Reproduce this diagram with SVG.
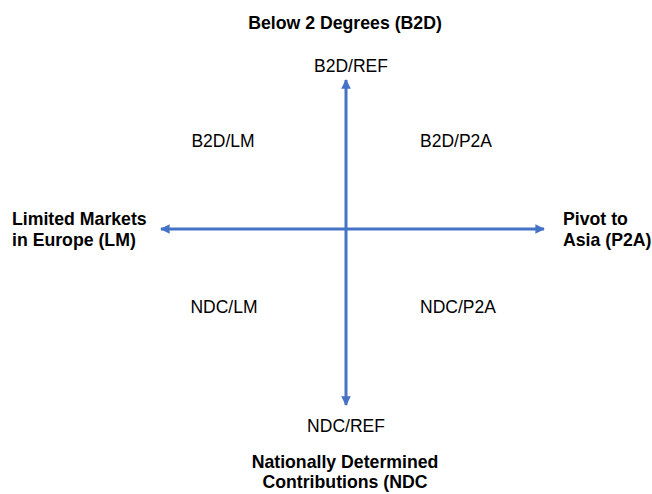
<svg xmlns="http://www.w3.org/2000/svg" width="652" height="494" viewBox="0 0 652 494">
<style>
.b{font-family:"Liberation Sans",Arial,sans-serif;font-weight:bold;font-size:17.7px;fill:#000}
.n{font-family:"Liberation Sans",Arial,sans-serif;font-size:17.5px;fill:#000}
.ax{stroke:#4472C4;stroke-width:3;fill:none}
</style>
<defs>
<marker id="ah" viewBox="0 0 10 10" refX="9" refY="5" markerWidth="3.2" markerHeight="3.2" orient="auto" markerUnits="strokeWidth">
<path d="M0,0 L10,5 L0,10 Z" fill="#4472C4"/>
</marker>
</defs>
<g id="connectors">
<line class="ax" x1="346" y1="229" x2="346" y2="80" marker-end="url(#ah)"/>
<line class="ax" x1="346" y1="229" x2="346" y2="405" marker-end="url(#ah)"/>
<line class="ax" x1="346" y1="229" x2="161" y2="229" marker-end="url(#ah)"/>
<line class="ax" x1="346" y1="229" x2="544" y2="229" marker-end="url(#ah)"/>
</g>
<g id="top-axis"><text class="b" x="345" y="29" text-anchor="middle">Below 2 Degrees (B2D)</text></g>
<g id="b2d-ref"><text class="n" x="351" y="72" text-anchor="middle">B2D/REF</text></g>
<g id="b2d-lm"><text class="n" x="223" y="147" text-anchor="middle">B2D/LM</text></g>
<g id="b2d-p2a"><text class="n" x="456" y="147" text-anchor="middle">B2D/P2A</text></g>
<g id="left-axis"><text class="b" x="12" y="225">Limited Markets</text><text class="b" x="12" y="246">in Europe (LM)</text></g>
<g id="right-axis"><text class="b" x="563" y="225">Pivot to</text><text class="b" x="563" y="246">Asia (P2A)</text></g>
<g id="ndc-lm"><text class="n" x="224" y="313" text-anchor="middle">NDC/LM</text></g>
<g id="ndc-p2a"><text class="n" x="458" y="313" text-anchor="middle">NDC/P2A</text></g>
<g id="ndc-ref"><text class="n" x="346" y="432" text-anchor="middle">NDC/REF</text></g>
<g id="bottom-axis"><text class="b" x="345" y="468" text-anchor="middle">Nationally Determined</text><text class="b" x="345" y="488" text-anchor="middle">Contributions (NDC</text></g>
</svg>
